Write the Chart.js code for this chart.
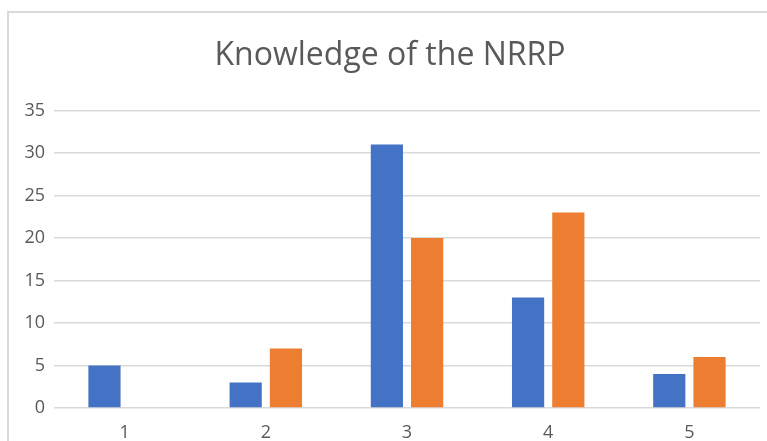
<!DOCTYPE html>
<html>
<head>
<meta charset="utf-8">
<script src="https://cdn.jsdelivr.net/npm/chart.js@4/dist/chart.umd.min.js"></script>
<style>
    html, body { margin: 0; padding: 0; background: #fff; }
    #wrap { position: relative; width: 767px; height: 441px; overflow: hidden; }
    #frame {
        position: absolute; left: 7px; top: 11px; width: 800px; height: 500px;
        border-left: 2px solid #d9d9d9; border-top: 2px solid #d9d9d9;
    }
    canvas { position: absolute; left: 0; top: 0; }
</style>
</head>
<body>
<div id="wrap">
    <div id="frame"></div>
    <canvas id="chart" width="767" height="441"></canvas>
</div>
<script>
// ── Data ─────────────────────────────────────────────────────────────────────

const categories = ['1', '2', '3', '4', '5'];
const seriesBlue = [5, 3, 31, 13, 4];
const seriesOrange = [0, 7, 20, 23, 6];
const yTicks = [0, 5, 10, 15, 20, 25, 30, 35];

const TEXT = '#595959';
const GRID = '#d9d9d9';
const FONT = "'Open Sans', 'Noto Sans', sans-serif";

new Chart(document.getElementById('chart'), {
    type: 'bar',
    data: {
        labels: categories,
        datasets: [
            { label: 'Series 1', data: seriesBlue, backgroundColor: '#4472c4' },
            { label: 'Series 2', data: seriesOrange, backgroundColor: '#ed7d31' },
        ],
    },
    options: {
        responsive: false,
        animation: false,
        categoryPercentage: 0.57,
        barPercentage: 0.8,
        layout: { padding: { left: 20, right: 7, top: 0, bottom: 0 } },
        plugins: {
            legend: { display: false },
            tooltip: { enabled: false },
            title: {
                display: true,
                text: 'Knowledge of the NRRP',
                color: TEXT,
                font: { family: FONT, size: 32, weight: 'normal' },
                padding: { top: 37, bottom: 35 },
            },
        },
        scales: {
            x: {
                grid: { display: false },
                border: { display: false },
                ticks: { color: TEXT, font: { family: FONT, size: 18 }, padding: 6 },
                afterFit: scale => { scale.height = 33; },
            },
            y: {
                min: 0,
                max: 35,
                afterBuildTicks: scale => { scale.ticks = yTicks.map(v => ({ value: v })); },
                grid: { color: GRID, lineWidth: 1.5, drawTicks: false },
                border: { display: false },
                ticks: { color: TEXT, font: { family: FONT, size: 18 }, padding: 9 },
                afterFit: scale => { scale.width = 34; },
            },
        },
    },
});
</script>
</body>
</html>
